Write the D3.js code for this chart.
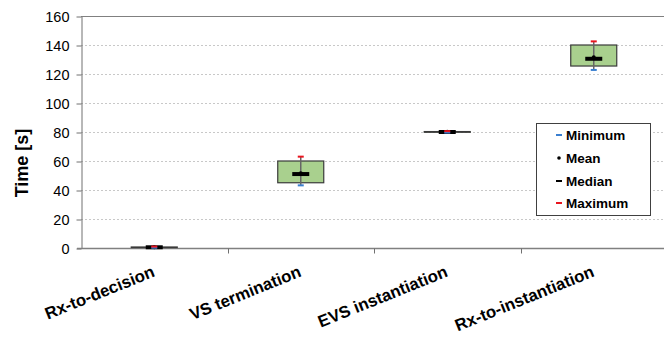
<!DOCTYPE html>
<html><head><meta charset="utf-8">
<script src="https://cdn.jsdelivr.net/npm/d3@7"></script>
<style>body{margin:0;background:#fff}svg{display:block}</style>
</head><body>
<script>
const categories = ["Rx-to-decision","VS termination","EVS instantiation","Rx-to-instantiation"];
const minimum = [0.2, 43.2, 79.6, 122.8];
const q1      = [0.3, 45.0, 79.8, 125.5];
const median  = [0.5, 51.0, 80.0, 130.5];
const mean    = [0.5, 51.6, 80.1, 131.6];
const q3      = [0.7, 60.0, 80.3, 140.0];
const maximum = [1.0, 63.0, 80.6, 142.5];
const yTicks  = [0,20,40,60,80,100,120,140,160];
const legendItems = ["Minimum","Mean","Median","Maximum"];

const W=664,H=337;
const FONT="Arial, 'Liberation Sans', sans-serif";
const svg=d3.select("body").append("svg").attr("width",W).attr("height",H);
const x=d3.scaleBand().domain(categories).range([81,667]).padding(0);
const y=d3.scaleLinear().domain([0,160]).range([248,16]);

// gridlines
svg.append("g").selectAll("line").data(yTicks.filter(d=>d>0&&d<160)).join("line")
  .attr("x1",81).attr("x2",W).attr("y1",d=>y(d)+0.5).attr("y2",d=>y(d)+0.5)
  .attr("stroke","#c8c8c8").attr("stroke-dasharray","2,2");
// top border
svg.append("line").attr("x1",81).attr("x2",W).attr("y1",y(160)+0.5).attr("y2",y(160)+0.5).attr("stroke","#808080");

// y axis
const ya=svg.append("g").attr("transform","translate(81.5,0.5)")
  .call(d3.axisLeft(y).tickValues(yTicks).tickSize(5).tickPadding(7).tickSizeOuter(0));
ya.select(".domain").attr("stroke","#707070");
ya.selectAll(".tick line").attr("stroke","#707070");
ya.selectAll("text").attr("font-family",FONT).attr("font-size","14.5px").attr("fill","#000");

// x axis
const xa=svg.append("g").attr("transform","translate(0,248.5)");
xa.append("line").attr("x1",77).attr("x2",W).attr("stroke","#808080").attr("stroke-width",1.5);
xa.selectAll("line.t").data(categories.slice(1)).join("line").attr("class","t")
  .attr("x1",d=>Math.round(x(d))+0.5).attr("x2",d=>Math.round(x(d))+0.5).attr("y1",0).attr("y2",5).attr("stroke","#707070");
xa.selectAll("text").data(categories).join("text")
  .attr("transform",d=>`translate(${x(d)+x.bandwidth()/2+1.5},${27.5}) rotate(-22)`)
  .attr("text-anchor","end").attr("font-family",FONT)
  .attr("font-weight","bold").attr("font-size","16.8px").attr("fill","#000").text(d=>d);

// y title
svg.append("text").attr("transform","translate(28,163) rotate(-90)").attr("text-anchor","middle")
  .attr("font-family",FONT).attr("font-weight","bold").attr("font-size","18px").text("Time [s]");

// boxes
const bw=46;
const g=svg.append("g");
categories.forEach((c,i)=>{
  const cx=x(c)+x.bandwidth()/2;
  const top=y(q3[i]), bot=y(q1[i]);
  g.append("rect").attr("x",cx-bw/2).attr("y",top).attr("width",bw).attr("height",Math.max(bot-top,0.5))
    .attr("fill","#a9d08e").attr("stroke","#3a3a3a").attr("stroke-width",1.2);
  g.append("line").attr("x1",cx).attr("x2",cx).attr("y1",y(maximum[i])).attr("y2",y(minimum[i]))
    .attr("stroke","#666").attr("stroke-width",1.5);
  g.append("line").attr("x1",cx-8.5).attr("x2",cx+8.5).attr("y1",y(median[i])).attr("y2",y(median[i]))
    .attr("stroke","#000").attr("stroke-width",4);
  g.append("circle").attr("cx",cx).attr("cy",y(mean[i])).attr("r",2).attr("fill","#000");
  g.append("line").attr("x1",cx-3).attr("x2",cx+3).attr("y1",y(minimum[i])).attr("y2",y(minimum[i]))
    .attr("stroke","#3a7fd0").attr("stroke-width",2);
  g.append("line").attr("x1",cx-3).attr("x2",cx+3).attr("y1",y(maximum[i])).attr("y2",y(maximum[i]))
    .attr("stroke","#e8141e").attr("stroke-width",2);
});

// legend
const lg=svg.append("g");
lg.append("rect").attr("x",536.5).attr("y",123.5).attr("width",114).attr("height",92).attr("fill","#fff").attr("stroke","#404040");
const ly=[135,158,181,203];
legendItems.forEach((t,i)=>{
  const yy=ly[i];
  if(t==="Mean") lg.append("circle").attr("cx",559).attr("cy",yy).attr("r",1.8).attr("fill","#000");
  else lg.append("line").attr("x1",556).attr("x2",562).attr("y1",yy).attr("y2",yy)
    .attr("stroke",t==="Minimum"?"#3a7fd0":t==="Median"?"#000":"#e8141e").attr("stroke-width",2);
  lg.append("text").attr("x",566).attr("y",yy+5).attr("font-family",FONT)
    .attr("font-weight","bold").attr("font-size","13.5px").attr("fill","#000").text(t);
});
</script>
</body></html>
